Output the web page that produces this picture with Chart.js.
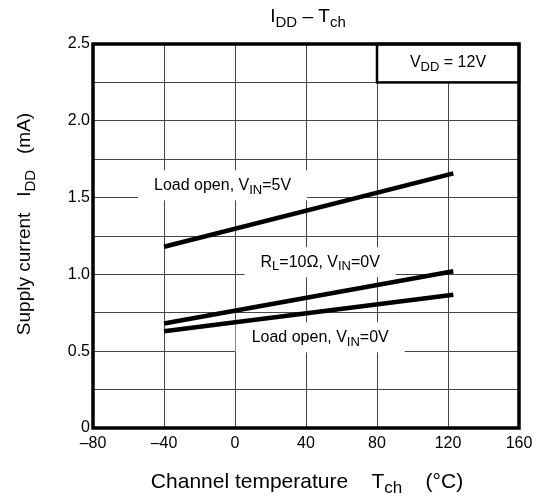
<!DOCTYPE html>
<html>
<head>
<meta charset="utf-8">
<script src="https://cdn.jsdelivr.net/npm/chart.js@4/dist/chart.umd.min.js"></script>
<style>
  body { margin: 0; background: #fff; }
  #wrap { width: 541px; height: 501px; }
</style>
</head>
<body>
<div id="wrap"><canvas id="chart" width="541" height="501"></canvas></div>
<script>
// channel temperature (°C) at the ends of each curve
const temps = [-40, 123];
// supply current (mA)
const open5V = [1.18, 1.658];
const rl10 = [0.68, 1.02];
const open0V = [0.63, 0.868];

const xTicks = [-80, -40, 0, 40, 80, 120, 160];
const yTicks = [0, 0.5, 1.0, 1.5, 2.0, 2.5];

const FONT = 'Liberation Sans, Arial, sans-serif';

// draws text made of [string, isSubscript] parts
function drawParts(ctx, parts, x, y, size, align) {
    const subSize = Math.round(size * 0.8);
    let total = 0;
    parts.forEach(p => {
        ctx.font = (p[1] ? subSize : size) + 'px ' + FONT;
        total += ctx.measureText(p[0]).width;
    });
    let cx = align === 'center' ? x - total / 2 : x;
    ctx.textBaseline = 'middle';
    ctx.textAlign = 'left';
    parts.forEach(p => {
        ctx.font = (p[1] ? subSize : size) + 'px ' + FONT;
        ctx.fillText(p[0], cx, p[1] ? y + size * 0.3 : y);
        cx += ctx.measureText(p[0]).width;
    });
    return total;
}

const curveLabels = [
    { x: -7, y: 1.58, parts: [['Load open, V', false], ['IN', true], ['=5V', false]] },
    { x: 48, y: 1.08, parts: [['R', false], ['L', true], ['=10Ω, V', false], ['IN', true], ['=0V', false]] },
    { x: 48, y: 0.59, parts: [['Load open, V', false], ['IN', true], ['=0V', false]] }
];

const decorPlugin = {
    id: 'decor',
    beforeDatasetsDraw(chart) {
        const ctx = chart.ctx;
        const xs = chart.scales.x, ys = chart.scales.y;
        ctx.save();
        // curve labels on white boxes
        curveLabels.forEach(l => {
            const px = xs.getPixelForValue(l.x), py = ys.getPixelForValue(l.y);
            ctx.globalAlpha = 0;
            const w = drawParts(ctx, l.parts, px, py, 16, 'center');
            ctx.globalAlpha = 1;
            ctx.fillStyle = '#fff';
            ctx.fillRect(px - w / 2 - 16, py - 15, w + 32, 30);
            ctx.fillStyle = '#000';
            drawParts(ctx, l.parts, px, py, 16, 'center');
        });
        // VDD box
        const bx1 = xs.getPixelForValue(80), bx2 = xs.getPixelForValue(160);
        const by1 = ys.getPixelForValue(2.5), by2 = ys.getPixelForValue(2.25);
        ctx.fillStyle = '#fff';
        ctx.fillRect(bx1, by1, bx2 - bx1, by2 - by1);
        ctx.strokeStyle = '#000';
        ctx.lineWidth = 2.5;
        ctx.strokeRect(bx1, by1, bx2 - bx1, by2 - by1);
        ctx.fillStyle = '#000';
        drawParts(ctx, [['V', false], ['DD', true], [' = 12V', false]], (bx1 + bx2) / 2, (by1 + by2) / 2 - 1, 16, 'center');
        ctx.restore();
    },
    afterDraw(chart) {
        const ctx = chart.ctx;
        const a = chart.chartArea;
        ctx.save();
        ctx.strokeStyle = '#000';
        ctx.lineWidth = 3.5;
        ctx.strokeRect(a.left, a.top, a.right - a.left, a.bottom - a.top);
        ctx.fillStyle = '#000';
        const midX = (a.left + a.right) / 2;
        // title
        drawParts(ctx, [['I', false], ['DD', true], [' – T', false], ['ch', true]], midX + 2, 17, 19, 'center');
        // x axis title
        drawParts(ctx, [['Channel temperature    T', false], ['ch', true], ['    (°C)', false]], midX + 1, 482, 21, 'center');
        // y axis title
        ctx.translate(25, 224);
        ctx.rotate(-Math.PI / 2);
        drawParts(ctx, [['Supply current   I', false], ['DD', true], ['   (mA)', false]], 0, 0, 19, 'center');
        ctx.restore();
    }
};

function lineSet(values) {
    return {
        data: temps.map((t, i) => ({ x: t, y: values[i] })),
        borderColor: '#000',
        borderWidth: 4.5,
        pointRadius: 0,
        fill: false
    };
}

new Chart(document.getElementById('chart'), {
    type: 'line',
    data: {
        datasets: [lineSet(open5V), lineSet(rl10), lineSet(open0V)]
    },
    options: {
        responsive: false,
        animation: false,
        layout: { padding: { top: 44, right: 22, bottom: 0, left: 0 } },
        plugins: {
            legend: { display: false },
            tooltip: { enabled: false }
        },
        scales: {
            x: {
                type: 'linear',
                min: xTicks[0],
                max: xTicks[xTicks.length - 1],
                afterBuildTicks(scale) {
                    scale.ticks = xTicks.map(v => ({ value: v }));
                },
                afterFit(scale) { scale.height = 73; },
                grid: { color: '#444', lineWidth: 1, drawTicks: false },
                border: { display: false },
                ticks: {
                    color: '#000',
                    font: { family: FONT, size: 16 },
                    padding: 6,
                    maxRotation: 0,
                    callback: v => (v < 0 ? '–' + Math.abs(v) : String(v))
                }
            },
            y: {
                type: 'linear',
                min: yTicks[0],
                max: yTicks[yTicks.length - 1],
                afterBuildTicks(scale) {
                    const t = [];
                    for (let i = 0; i < yTicks.length; i++) {
                        t.push({ value: yTicks[i] });
                        if (i < yTicks.length - 1) t.push({ value: (yTicks[i] + yTicks[i + 1]) / 2 });
                    }
                    scale.ticks = t;
                },
                afterFit(scale) { scale.width = 93; },
                grid: { color: '#444', lineWidth: 1, drawTicks: false },
                border: { display: false },
                ticks: {
                    color: '#000',
                    font: { family: FONT, size: 16 },
                    padding: 3,
                    callback: v => (yTicks.includes(v) ? (v === 0 ? '0' : v.toFixed(1)) : '')
                }
            }
        }
    },
    plugins: [decorPlugin]
});
</script>
</body>
</html>
